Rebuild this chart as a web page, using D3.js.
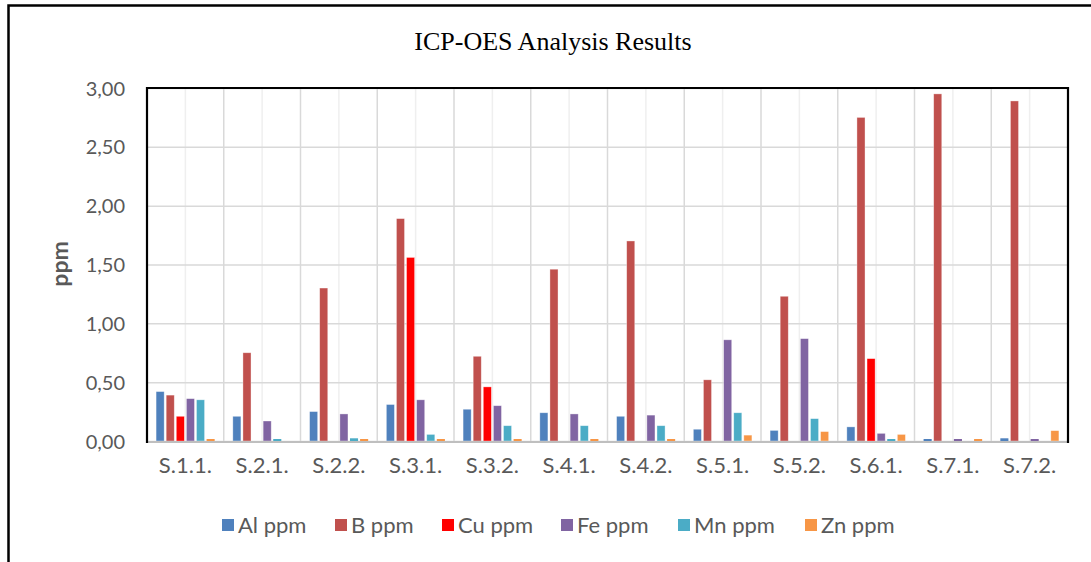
<!DOCTYPE html>
<html>
<head>
<meta charset="utf-8">
<script src="https://cdn.jsdelivr.net/npm/d3@7"></script>
<style>
  body { margin: 0; background: #fff; }
  .tick text { font-family: Lato, "Open Sans", sans-serif; fill: #595959; }
</style>
</head>
<body>
<svg id="chart" width="1091" height="562"></svg>
<script>
// Data
var categories = ["S.1.1.", "S.2.1.", "S.2.2.", "S.3.1.", "S.3.2.", "S.4.1.",
                  "S.4.2.", "S.5.1.", "S.5.2.", "S.6.1.", "S.7.1.", "S.7.2."];
var seriesNames = ["Al ppm", "B ppm", "Cu ppm", "Fe ppm", "Mn ppm", "Zn ppm"];
var alValues = [0.42, 0.21, 0.25, 0.31, 0.27, 0.24, 0.21, 0.10, 0.09, 0.12, 0.014, 0.023];
var bValues  = [0.39, 0.75, 1.30, 1.89, 0.72, 1.46, 1.70, 0.52, 1.23, 2.75, 2.95, 2.89];
var cuValues = [0.21, 0, 0, 1.56, 0.46, 0, 0, 0, 0, 0.70, 0, 0];
var feValues = [0.36, 0.17, 0.23, 0.35, 0.30, 0.23, 0.22, 0.86, 0.87, 0.065, 0.014, 0.014];
var mnValues = [0.35, 0.014, 0.023, 0.056, 0.13, 0.13, 0.13, 0.24, 0.19, 0.014, 0, 0];
var znValues = [0.005, 0, 0.005, 0.005, 0.005, 0.005, 0.005, 0.05, 0.08, 0.056, 0.014, 0.088];
var yTicks = [0, 0.5, 1, 1.5, 2, 2.5, 3];

var colors = ["#4F81BD", "#C0504D", "#FF0000", "#8064A2", "#4BACC6", "#F79646"];
var allValues = [alValues, bValues, cuValues, feValues, mnValues, znValues];

var rows = categories.map(function(c, i) {
  var r = { label: c };
  seriesNames.forEach(function(s, j) { r[s] = allValues[j][i]; });
  return r;
});

var svg = d3.select("#chart");
var margins = { top: 88, right: 23, bottom: 121, left: 147 };
var width = 1091, height = 562;
var chartWidth = width - margins.left - margins.right;
var chartHeight = height - margins.top - margins.bottom;

// Outer frame (top + left only visible)
svg.append("path")
  .attr("d", "M8.5,562 L8.5,5.5 L1091,5.5")
  .attr("fill", "none")
  .attr("stroke", "#000")
  .attr("stroke-width", 2.5);

// Title
svg.append("text")
  .attr("x", 553)
  .attr("y", 50)
  .attr("text-anchor", "middle")
  .style("font-family", "'Liberation Serif', 'Times New Roman', serif")
  .style("font-size", "26px")
  .attr("fill", "#000")
  .text("ICP-OES Analysis Results");

var chartElement = svg.append("g")
  .attr("transform", "translate(" + margins.left + "," + margins.top + ")");

var xScale = d3.scaleBand()
  .domain(categories)
  .range([0, chartWidth]);

var xInner = d3.scaleBand()
  .domain(seriesNames)
  .range([0, xScale.bandwidth()])
  .paddingInner(0.2)
  .paddingOuter(0.9);

var yScale = d3.scaleLinear()
  .domain([0, 3])
  .range([chartHeight, 0]);

var fmt = function(d) { return d3.format(".2f")(d).replace(".", ","); };

// Vertical grid: light at centres, darker at boundaries
chartElement.append("g")
  .selectAll("line.center")
  .data(categories)
  .enter().append("line")
  .attr("x1", function(d) { return xScale(d) + xScale.bandwidth() / 2; })
  .attr("x2", function(d) { return xScale(d) + xScale.bandwidth() / 2; })
  .attr("y1", 0).attr("y2", chartHeight)
  .attr("stroke", "#efefef").attr("stroke-width", 1.5);

chartElement.append("g")
  .selectAll("line.bound")
  .data(categories.slice(1))
  .enter().append("line")
  .attr("x1", function(d) { return xScale(d); })
  .attr("x2", function(d) { return xScale(d); })
  .attr("y1", 0).attr("y2", chartHeight)
  .attr("stroke", "#d9d9d9").attr("stroke-width", 1.5);

// Horizontal grid
var yAxisGrid = d3.axisLeft(yScale)
  .tickValues(yTicks)
  .tickSize(-chartWidth, 0)
  .tickFormat("");
chartElement.append("g")
  .attr("class", "y grid")
  .call(yAxisGrid)
  .call(function(g) {
    g.select(".domain").remove();
    g.selectAll("line").attr("stroke", "#d9d9d9").attr("stroke-width", 1.5);
  });

// Y axis labels
var yAxisLeft = d3.axisLeft(yScale)
  .tickValues(yTicks)
  .tickSize(0)
  .tickPadding(22)
  .tickFormat(fmt);
chartElement.append("g")
  .attr("class", "y axis")
  .call(yAxisLeft)
  .call(function(g) {
    g.select(".domain").remove();
    g.selectAll("text").style("font-size", "20px").attr("dy", "0.35em");
  });

// X axis labels
var xAxisBottom = d3.axisBottom(xScale)
  .tickSize(0)
  .tickPadding(16);
chartElement.append("g")
  .attr("class", "x axis")
  .attr("transform", "translate(0," + chartHeight + ")")
  .call(xAxisBottom)
  .call(function(g) {
    g.select(".domain").remove();
    g.selectAll("text").style("font-size", "22px");
  });

// Bars
var groups = chartElement.append("g")
  .attr("class", "bars")
  .selectAll("g")
  .data(rows)
  .enter().append("g")
  .attr("transform", function(d) { return "translate(" + xScale(d.label) + ",0)"; });

var barHeight = function(d) { return Math.max(2, yScale(0) - yScale(d.value)); };

groups.selectAll("rect")
  .data(function(d) {
    return seriesNames
      .map(function(s, j) { return { key: s, value: d[s], color: colors[j] }; })
      .filter(function(b) { return b.value > 0; });
  })
  .enter().append("rect")
  .attr("x", function(d) { return xInner(d.key); })
  .attr("y", function(d) { return yScale(0) - barHeight(d); })
  .attr("width", xInner.bandwidth())
  .attr("height", barHeight)
  .attr("fill", function(d) { return d.color; })
  .attr("stroke", function(d) { return barHeight(d) > 4 ? "#fff" : "none"; })
  .attr("stroke-opacity", 0.5)
  .attr("stroke-width", 0.7);

// Zero line (gray) and plot border (black, top/left/right)
chartElement.append("line")
  .attr("x1", 0).attr("x2", chartWidth)
  .attr("y1", yScale(0) + 1).attr("y2", yScale(0) + 1)
  .attr("stroke", "#bfbfbf").attr("stroke-width", 2);

chartElement.append("path")
  .attr("d", "M0," + (chartHeight + 2) + " L0,0 L" + chartWidth + ",0 L" + chartWidth + "," + (chartHeight + 2))
  .attr("fill", "none")
  .attr("stroke", "#000")
  .attr("stroke-width", 2.2);

// Y title
svg.append("text")
  .attr("transform", "translate(68,264) rotate(-90)")
  .attr("text-anchor", "middle")
  .style("font-family", "Lato, 'Open Sans', sans-serif")
  .style("font-size", "23px")
  .style("font-weight", "bold")
  .attr("fill", "#595959")
  .text("ppm");

// Legend
var legendX = [222, 335, 442, 561, 678, 805];
var legend = svg.append("g").attr("class", "legend")
  .selectAll("g")
  .data(seriesNames)
  .enter().append("g")
  .attr("transform", function(d, i) { return "translate(" + legendX[i] + ",519)"; });

legend.append("rect")
  .attr("width", 12).attr("height", 12)
  .attr("fill", function(d, i) { return colors[i]; });

legend.append("text")
  .attr("x", 16)
  .attr("y", 6)
  .attr("dy", "0.35em")
  .style("font-family", "Lato, 'Open Sans', sans-serif")
  .style("font-size", "22px")
  .attr("fill", "#595959")
  .text(function(d) { return d; });
</script>
</body>
</html>
